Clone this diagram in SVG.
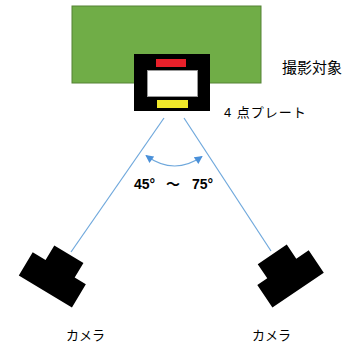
<svg xmlns="http://www.w3.org/2000/svg" width="352" height="345" viewBox="0 0 352 345">
<defs>
<style>
.lbl{font-family:"Liberation Sans","Noto Sans CJK JP",sans-serif;fill:#000}
.ray{stroke:#6FA8DC;stroke-width:1.2;fill:none}
.cam{fill:#000}
</style>
<marker id="ah" viewBox="0 0 10 10" refX="9" refY="5" markerWidth="9" markerHeight="8" markerUnits="userSpaceOnUse" orient="auto-start-reverse">
<path d="M0,0 L10,5 L0,10 Z" fill="#4A90D9"/>
</marker>
</defs>
<rect width="352" height="345" fill="#fff"/>
<g id="target">
<rect x="72" y="6" width="189" height="77" fill="#70AD47" stroke="#548235" stroke-width="1"/>
<text class="lbl" x="282" y="73" font-size="15">撮影対象</text>
</g>
<g id="plate">
<rect x="134" y="54" width="76" height="57" fill="#000"/>
<rect x="156" y="59" width="30" height="8" fill="#E8202A"/>
<rect x="147.5" y="70.5" width="50" height="26" fill="#fff" stroke="#999" stroke-width="1"/>
<rect x="157" y="100" width="31" height="8" fill="#F0E82A"/>
<text class="lbl" x="224" y="117" font-size="13" letter-spacing="1">4 点プレート</text>
</g>
<g id="connectors">
<line class="ray" x1="164" y1="118" x2="71" y2="252"/>
<line class="ray" x1="184" y1="118" x2="271" y2="251"/>
<path class="ray" d="M146,155.5 Q174,176 202,156.5" stroke="#4A90D9" marker-start="url(#ah)" marker-end="url(#ah)"/>
</g>
<g id="angle-label">
<text class="lbl" y="188.5" font-size="14" font-weight="bold"><tspan x="134">45°</tspan><tspan x="166">～</tspan><tspan x="192">75°</tspan></text>
</g>
<g id="camera-left">
<polygon class="cam" transform="translate(32.7,252.3) rotate(31)" points="0,0 15,0 15,-17 49,-17 49,0 62,0 62,27 0,27"/>
<text class="lbl" x="66" y="340" font-size="13">カメラ</text>
</g>
<g id="camera-right">
<polygon class="cam" transform="translate(257.3,285) rotate(-34)" points="0,0 12,0 12,-17 47,-17 47,0 62,0 62,27 0,27"/>
<text class="lbl" x="252" y="340" font-size="13">カメラ</text>
</g>
</svg>
